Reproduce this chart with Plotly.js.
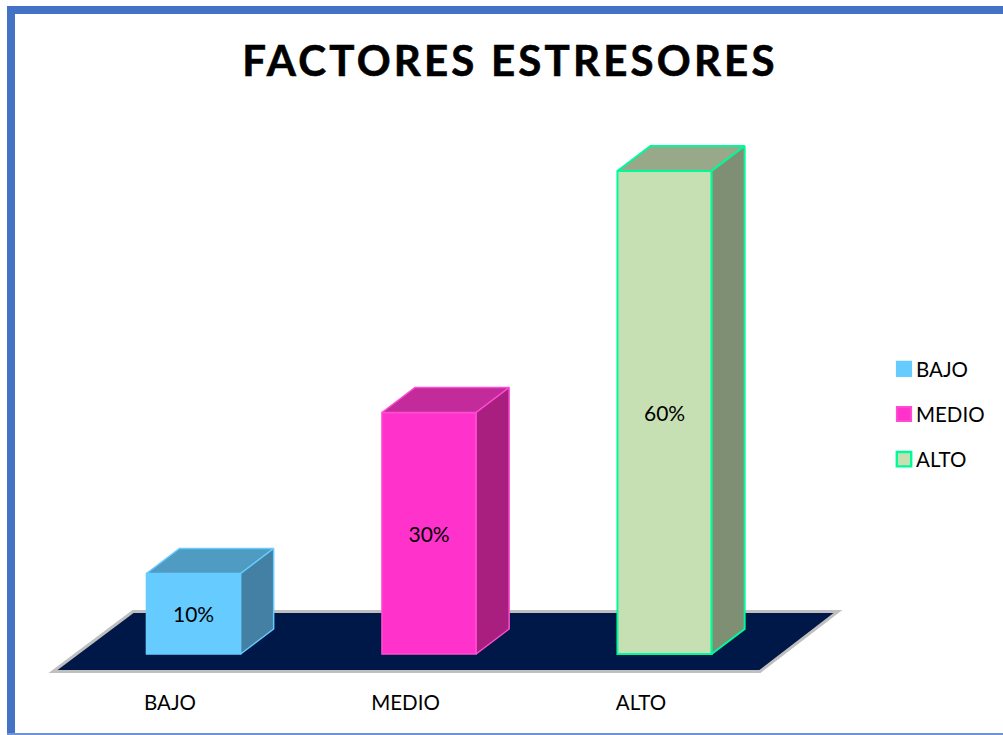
<!DOCTYPE html>
<html><head><meta charset="utf-8">
<script src="https://cdn.plot.ly/plotly-3.0.1.min.js"></script>
<style>
html,body{margin:0;padding:0;background:#fff;overflow:hidden}
.gtitle{letter-spacing:3.2px;stroke:#000;stroke-width:0.6px}
.legendtext{transform:translateX(-8px)}
.legendpoints path{transform:translate(20px,0px) scale(1.2)}
</style></head>
<body><div id="chart" style="width:1003px;height:735px"></div>
<script>
const titleText = "FACTORES ESTRESORES";
const categories = ["BAJO", "MEDIO", "ALTO"];
const values = [10, 30, 60];
const frontColors = ["#66CCFF", "#FF33CC", "#C6E0B4"];
const topColors = ["#4F9BC2", "#C32A9A", "#98A98A"];
const sideColors = ["#4380A3", "#A81F7F", "#7F8F73"];
const lineColors = ["#66CCFF", "#FF4DD2", "#00FA9A"];
const lineWidths = [1.5, 1.5, 2];

// canvas geometry
const W = 1003, H = 735, plotBottom = 676;
const xZeroPx = 170, xUnit = 235.5, yZeroPx = 654, yUnit = 8.05;
const barOffset = 0.1, barWidth = 0.4;
const depthX = 33 / xUnit, depthY = 25 / yUnit;
const xPos = categories.map((_, i) => i + barOffset);

const px = p => (p - xZeroPx) / xUnit;
const py = p => (yZeroPx - p) / yUnit;

const traces = [];
categories.forEach((c, i) => {
  const l = xPos[i] - barWidth / 2, r = xPos[i] + barWidth / 2, v = values[i];
  traces.push({
    type: "bar", name: c, x: [xPos[i]], y: [v], width: [barWidth],
    legendgroup: c,
    marker: {color: frontColors[i], line: {color: lineColors[i], width: lineWidths[i]}},
    text: [v + "%"], textposition: "inside", insidetextanchor: "middle", textangle: 0,
    textfont: {family: "Lato, sans-serif", size: 21, color: "#000"},
    hoverinfo: "skip", cliponaxis: false
  });
  traces.push({
    type: "scatter", mode: "lines", showlegend: false, legendgroup: c, hoverinfo: "skip",
    x: [l, r, r + depthX, l + depthX, l], y: [v, v, v + depthY, v + depthY, v],
    fill: "toself", fillcolor: topColors[i], line: {color: lineColors[i], width: lineWidths[i]}
  });
  traces.push({
    type: "scatter", mode: "lines", showlegend: false, legendgroup: c, hoverinfo: "skip",
    x: [r, r + depthX, r + depthX, r, r], y: [0, depthY, v + depthY, v, 0],
    fill: "toself", fillcolor: sideColors[i], line: {color: lineColors[i], width: lineWidths[i]}
  });
});

const floorPath = "M" + px(53) + "," + py(671.5) + "L" + px(760) + "," + py(671.5) +
  "L" + px(838) + "," + py(611.5) + "L" + px(133) + "," + py(611.5) + "Z";

const band = (x0, y0, x1, y1, color) => ({
  type: "rect", xref: "paper", yref: "paper", layer: "above",
  x0: x0 / W, x1: x1 / W, y0: 1 - y0 / plotBottom, y1: 1 - y1 / plotBottom,
  fillcolor: color, line: {width: 0}
});

const layout = {
  width: W, height: H,
  margin: {l: 0, r: 0, t: 0, b: H - plotBottom, pad: 0},
  paper_bgcolor: "#fff", plot_bgcolor: "rgba(0,0,0,0)",
  font: {family: "Lato, sans-serif", color: "#000"},
  title: {
    text: "<b>" + titleText + "</b>", font: {family: "Lato, sans-serif", size: 42, color: "#000"},
    xref: "container", yref: "container", x: 510 / W, xanchor: "center",
    y: 1 - 61 / H, yanchor: "middle"
  },
  xaxis: {
    range: [px(0), px(W)], tickmode: "array", tickvals: categories.map((_, i) => i), ticktext: categories,
    showgrid: false, zeroline: false, showline: false, ticks: "outside", ticklen: 8, tickcolor: "rgba(0,0,0,0)",
    tickfont: {family: "Lato, sans-serif", size: 20.5, color: "#000"}, fixedrange: true
  },
  yaxis: {range: [py(plotBottom), py(0)], visible: false, fixedrange: true},
  showlegend: true,
  legend: {
    x: 884 / W, xanchor: "left", y: 1 - 349 / plotBottom, yanchor: "top",
    font: {family: "Lato, sans-serif", size: 20.5, color: "#000"},
    tracegroupgap: 15.5, bgcolor: "rgba(0,0,0,0)", itemclick: false, itemdoubleclick: false
  },
  barmode: "overlay",
  shapes: [
    {type: "path", xref: "x", yref: "y", layer: "below", path: floorPath,
     fillcolor: "#001848", line: {color: "#BFBFBF", width: 3}},
    band(7, 6, W, 14, "#4472C4"),
    band(7, 6, 15, H, "#4472C4"),
    band(7, 733, W, H, "#6F94D6")
  ]
};
Plotly.newPlot("chart", traces, layout, {displayModeBar: false, staticPlot: false});
</script></body></html>
